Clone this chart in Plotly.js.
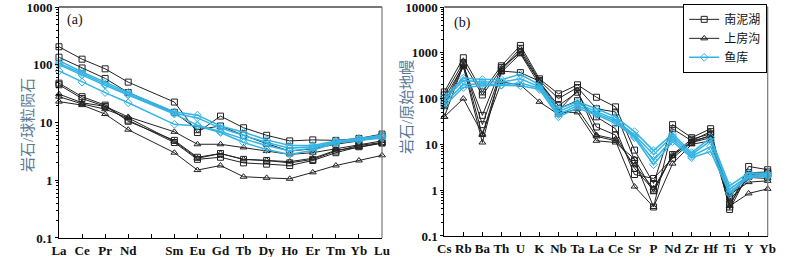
<!DOCTYPE html>
<html><head><meta charset="utf-8">
<script src="https://cdn.plot.ly/plotly-3.0.1.min.js"></script>
<style>body{margin:0;background:#fff}#chart{width:800px;height:257px}</style>
</head><body><div id="chart"></div>
<script>
// ---------- (a) chondrite-normalised REE ----------
var reeCategories = ['La','Ce','Pr','Nd','Pm','Sm','Eu','Gd','Tb','Dy','Ho','Er','Tm','Yb','Lu'];
var reeTickLabels = ['La','Ce','Pr','Nd','','Sm','Eu','Gd','Tb','Dy','Ho','Er','Tm','Yb','Lu'];
var reeElements = ['La','Ce','Pr','Nd','Sm','Eu','Gd','Tb','Dy','Ho','Er','Tm','Yb','Lu'];

var reeNanni1 = [205,125,85,50,22.6,6.7,12.9,8.1,6.0,4.8,5.0,4.9,5.3,6.3];
var reeNanni2 = [135,88,58,33,15,7.5,8.7,6.0,4.3,3.2,3.5,4.2,4.8,5.8];
var reeNanni3 = [48,28,20,10.5,4.9,2.5,2.9,2.3,2.2,2.0,2.3,3.2,4.0,4.5];
var reeNanni4 = [45,26,19,11,4.5,2.3,2.5,2.0,1.9,1.8,2.2,3.0,3.8,4.4];
var reeShang1 = [31,22,19,12.5,6.9,4.2,4.2,3.7,3.2,2.8,3.0,3.5,4.0,4.8];
var reeShang2 = [28,21,17,12,4.7,2.4,2.9,2.3,2.2,2.1,2.4,3.3,3.7,4.4];
var reeShang3 = [23,20,14,7.5,3.0,1.5,1.8,1.15,1.1,1.06,1.37,1.8,2.2,2.7];
var reeYuku1 = [118,75,50,33,15.3,13.4,8.7,6.8,5.0,4.0,4.0,4.8,5.3,6.0];
var reeYuku2 = [106,70,46,31,14.5,12,8.0,6.0,4.5,3.6,3.8,4.6,5.1,5.8];
var reeYuku3 = [100,66,44,30,14,9,7.0,5.2,4.0,3.2,3.6,4.5,5.0,5.7];
var reeYuku4 = [78,50,33,22,9.3,8.7,6.7,4.5,3.4,2.8,3.3,4.4,4.9,5.4];

// ---------- (b) primitive-mantle-normalised trace elements ----------
var traceElements = ['Cs','Rb','Ba','Th','U','K','Nb','Ta','La','Ce','Sr','P','Nd','Zr','Hf','Ti','Y','Yb'];
var trNanni1 = [140,780,140,520,1450,270,127,200,107,66,7.5,1.4,27,14,22,0.43,3.3,2.8];
var trNanni2 = [120,610,120,440,1250,250,100,175,60,51,4.5,0.43,22,12,19,0.38,2.4,2.5];
var trNanni3 = [100,520,43,480,1000,230,70,138,24,16,3.0,1.0,6,13,17,0.7,2.2,2.3];
var trNanni4 = [75,560,27,400,370,240,60,90,40,22,2.2,1.8,5,11,16,0.5,2.0,2.1];
var trShang1 = [40,100,17,230,200,85,45,60,15,12,1.2,0.43,3.8,10,12,0.45,0.85,1.07];
var trShang2 = [65,500,11,420,1100,230,50,50,12,11,4.8,0.9,6,11,14,0.8,1.5,1.6];
var trShang3 = [40,540,16,380,950,200,55,150,16,13,3.5,1.1,5.5,12,15,0.6,1.9,1.8];
var trYuku1 = [110,280,260,260,340,200,60,85,60,40,19,7.3,17,6.6,14,1.25,2.4,2.3];
var trYuku2 = [95,250,230,230,270,180,52,78,52,35,16,6.0,15,6.0,12,1.05,2.1,2.2];
var trYuku3 = [80,200,210,200,220,170,45,70,47,32,15,4.5,13,5.5,9,0.9,2.0,2.1];
var trYuku4 = [70,175,190,195,190,160,40,62,44,29,14,3.6,11.5,5.1,7,0.83,1.9,2.0];

var logTickVals = [0.1,1,10,100,1000,10000];
var logTickText = ['0.1','1','10','100','1000','10000'];
var groupNames = ['南泥湖','上房沟','鱼库'];
var yTitleA = '岩石/球粒陨石';
var yTitleB = '岩石/原始地幔';

var CYAN = '#33b4e4';
var styles = [
  {color:'#222', symbol:'square-open', width:1},
  {color:'#222', symbol:'triangle-up-open', width:1},
  {color:CYAN, symbol:'diamond-open', width:1.5}
];

var traces = [];
function add(xs, ys, g, xa, ya, showLeg) {
  var s = styles[g];
  traces.push({
    type:'scatter', mode:'lines+markers', x:xs, y:ys, xaxis:xa, yaxis:ya,
    name: groupNames[g], legendgroup: groupNames[g], showlegend: !!showLeg,
    cliponaxis:false,
    line:{color:s.color, width:s.width},
    marker:{symbol:s.symbol, size:6, color:s.color, line:{color:s.color, width:1}}
  });
}
[reeNanni1,reeNanni2,reeNanni3,reeNanni4].forEach(function(d){add(reeElements,d,0,'x','y');});
[reeShang1,reeShang2,reeShang3].forEach(function(d){add(reeElements,d,1,'x','y');});
[reeYuku4,reeYuku3,reeYuku2,reeYuku1].forEach(function(d){add(reeElements,d,2,'x','y');});
[trNanni1,trNanni2,trNanni3,trNanni4].forEach(function(d,i){add(traceElements,d,0,'x2','y2',i===0);});
[trShang1,trShang2,trShang3].forEach(function(d,i){add(traceElements,d,1,'x2','y2',i===0);});
[trYuku4,trYuku3,trYuku2,trYuku1].forEach(function(d,i){add(traceElements,d,2,'x2','y2',i===0);});

var tickFont = {family:'Liberation Serif, Times New Roman, serif', size:13, color:'#111', weight:'bold'};
var xTickFont = {family:'Liberation Serif, Times New Roman, serif', size:13, color:'#111', weight:'bold'};
var titleFont = {family:'Liberation Serif, Noto Sans CJK SC, serif', size:15, color:'#5b7a98'};

function yAx(domain, range, anchor) {
  return {
    type:'log', domain:domain, range:range, anchor:anchor,
    tickvals:logTickVals, ticktext:logTickText, tickfont:tickFont, ticklabeloverflow:'allow',
    ticks:'outside', ticklen:3, tickcolor:'#000', tickwidth:1,
    minor:{ticks:'outside', ticklen:2, tickcolor:'#000', dtick:'D1', showgrid:false},
    showline:true, linecolor:'#000', linewidth:1, showgrid:false, zeroline:false
  };
}
function yOver(range, over, anchor) {
  return {
    type:'log', range:range, overlaying:over, anchor:anchor, side:'left',
    tickvals:logTickVals, showticklabels:false,
    ticks:'inside', ticklen:3, tickcolor:'#000', tickwidth:1,
    minor:{ticks:'inside', ticklen:2, tickcolor:'#000', dtick:'D1', showgrid:false},
    showline:false, showgrid:false, zeroline:false
  };
}

var rangeA = [-1.0005, 3.0005];
var rangeB = [-1.0005, 4.0005];

var layout = {
  width:800, height:257, margin:{l:0,r:0,t:0,b:0},
  paper_bgcolor:'#fff', plot_bgcolor:'#fff',
  showlegend:true,
  xaxis:{domain:[0.07375,0.4775], type:'category', categoryarray:reeCategories, categoryorder:'array',
    range:[0,14], tickvals:reeCategories, ticktext:reeTickLabels, tickfont:xTickFont,
    ticks:'inside', ticklen:4, tickcolor:'#000', showline:true, linecolor:'#000', linewidth:1,
    showgrid:false, zeroline:false, anchor:'y', tickangle:0},
  yaxis: yAx([0.0739,0.9728], rangeA, 'x'),
  yaxis3: yOver(rangeA, 'y', 'x'),
  xaxis2:{domain:[0.5554,0.9596], type:'category', categoryarray:traceElements, categoryorder:'array',
    range:[0,17], tickfont:xTickFont,
    ticks:'inside', ticklen:4, tickcolor:'#000', showline:true, linecolor:'#000', linewidth:1,
    showgrid:false, zeroline:false, anchor:'y2', tickangle:0},
  yaxis2: yAx([0.0817,0.9728], rangeB, 'x2'),
  yaxis4: yOver(rangeB, 'y2', 'x2'),
  legend:{x:0.959, xanchor:'right', y:0.985, yanchor:'top', bgcolor:'#fff',
    bordercolor:'#000', borderwidth:1, tracegroupgap:0, itemwidth:30,
    font:{family:'Liberation Serif, Noto Sans CJK SC, serif', size:12, color:'#111'}},
  annotations:[
    {text:yTitleA, xref:'paper', yref:'paper', x:28/800, y:1-125/257, textangle:-90, showarrow:false,
     xanchor:'center', yanchor:'middle', font:titleFont},
    {text:yTitleB, xref:'paper', yref:'paper', x:407/800, y:1-107/257, textangle:-90, showarrow:false,
     xanchor:'center', yanchor:'middle', font:titleFont},
    {text:'(a)', xref:'x domain', yref:'y domain', x:0.02, y:0.985, xanchor:'left', yanchor:'top', showarrow:false,
     font:{family:'Liberation Serif, serif', size:14, color:'#111'}},
    {text:'(b)', xref:'x2 domain', yref:'y2 domain', x:0.025, y:0.975, xanchor:'left', yanchor:'top', showarrow:false,
     font:{family:'Liberation Serif, serif', size:14, color:'#111'}}
  ],
  shapes:[
    {type:'line', xref:'x domain', yref:'y domain', x0:0, x1:1, y0:1, y1:1, line:{color:'#777', width:2}},
    {type:'line', xref:'x domain', yref:'y domain', x0:1, x1:1, y0:0, y1:1, line:{color:'#777', width:1.2}},
    {type:'line', xref:'x2 domain', yref:'y2 domain', x0:0, x1:1, y0:1, y1:1, line:{color:'#777', width:2}},
    {type:'line', xref:'x2 domain', yref:'y2 domain', x0:1, x1:1, y0:0, y1:1, line:{color:'#777', width:1.2}}
  ]
};

Plotly.newPlot('chart', traces, layout, {staticPlot:true, displayModeBar:false});
</script></body></html>
